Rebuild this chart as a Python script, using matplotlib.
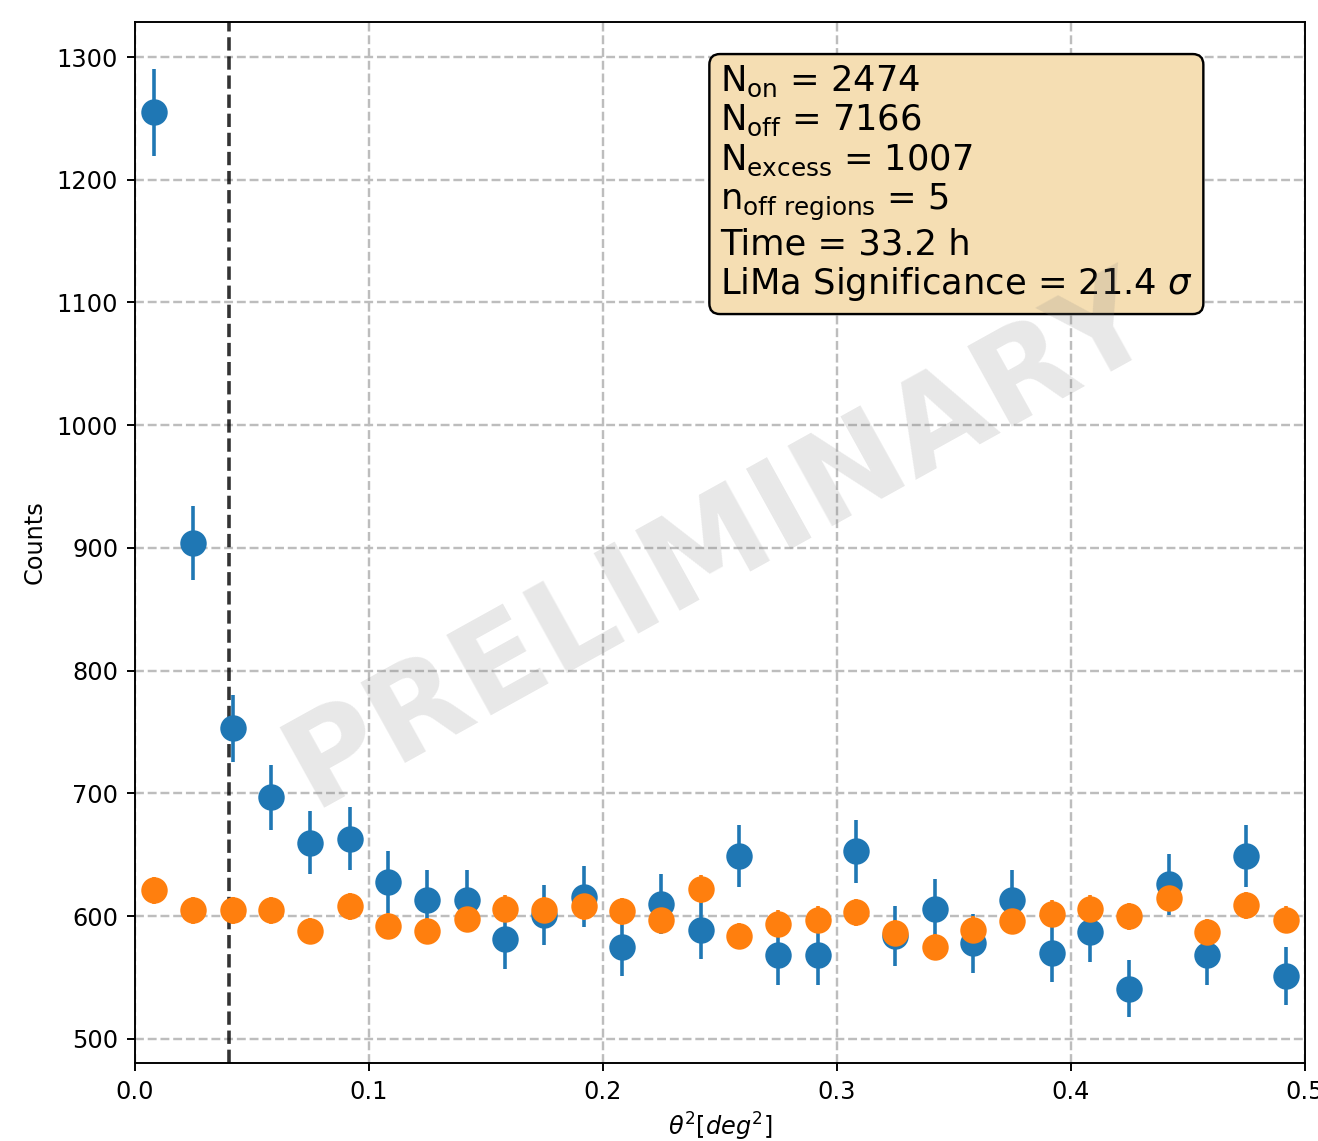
import matplotlib
matplotlib.use("Agg")
import matplotlib.pyplot as plt

# theta^2 bin centres (30 bins between 0 and 0.5 deg^2)
theta2 = [0.0083, 0.0250, 0.0417, 0.0583, 0.0750, 0.0917, 0.1083, 0.1250, 0.1417, 0.1583,
          0.1750, 0.1917, 0.2083, 0.2250, 0.2417, 0.2583, 0.2750, 0.2917, 0.3083, 0.3250,
          0.3417, 0.3583, 0.3750, 0.3917, 0.4083, 0.4250, 0.4417, 0.4583, 0.4750, 0.4917]

# ON counts and errors
on_counts = [1255, 904, 753, 697, 660, 663, 628, 613, 613, 581,
             601, 616, 575, 610, 589, 649, 568, 568, 653, 584,
             606, 578, 613, 570, 587, 541, 626, 568, 649, 551]
on_err = [35.4, 30.1, 27.4, 26.4, 25.7, 25.7, 25.1, 24.8, 24.8, 24.1,
          24.5, 24.8, 24.0, 24.7, 24.3, 25.5, 23.8, 23.8, 25.6, 24.2,
          24.6, 24.0, 24.8, 23.9, 24.2, 23.3, 25.0, 23.8, 25.5, 23.5]

# OFF (scaled) counts and errors
off_counts = [621, 605, 605, 605, 588, 608, 592, 588, 598, 606,
              605, 608, 604, 597, 622, 584, 594, 597, 603, 586,
              575, 589, 596, 602, 606, 600, 615, 587, 609, 597]
off_err = [11.1, 11.0, 11.0, 11.0, 10.8, 11.0, 10.9, 10.8, 10.9, 11.0,
           11.0, 11.0, 11.0, 10.9, 11.2, 10.8, 10.9, 10.9, 11.0, 10.8,
           10.7, 10.9, 10.9, 11.0, 11.0, 11.0, 11.1, 10.8, 11.0, 10.9]

theta2_cut = 0.04
xticks = [0.0, 0.1, 0.2, 0.3, 0.4, 0.5]
yticks = [500, 600, 700, 800, 900, 1000, 1100, 1200, 1300]

info_lines = [
    r"$\mathrm{N_{on}}$ = 2474",
    r"$\mathrm{N_{off}}$ = 7166",
    r"$\mathrm{N_{excess}}$ = 1007",
    r"$\mathrm{n_{off\ regions}}$ = 5",
    r"Time = 33.2 h",
    r"LiMa Significance = 21.4 $\sigma$",
]

DPI = 173
fig = plt.figure(figsize=(1318 / DPI, 1141 / DPI), dpi=DPI)
ax = fig.add_axes([0.1024, 0.0684, 0.8877, 0.9123])

ax.errorbar(theta2, on_counts, yerr=on_err, fmt="o", color="C0", markersize=10)
ax.errorbar(theta2, off_counts, yerr=off_err, fmt="o", color="C1", markersize=10)
ax.axvline(theta2_cut, color="k", linestyle="--", linewidth=1.5, alpha=0.8)

ax.set_xlim(0, 0.5)
ax.set_ylim(480.4, 1328.5)
ax.set_xticks(xticks)
ax.set_yticks(yticks)
ax.grid(True, linestyle="--", linewidth=1.0, color="#bdbdbd")
ax.set_xlabel(r"$\theta^2 [deg^2]$", labelpad=3)
ax.set_ylabel("Counts")

ax.text(0.5, 0.96, "\n".join(info_lines), transform=ax.transAxes,
        fontsize=14.7, va="top", ha="left", linespacing=1.15,
        bbox=dict(boxstyle="round", facecolor="wheat", edgecolor="black"))

ax.text(0.5, 0.5, "PRELIMINARY", transform=ax.transAxes, fontsize=53,
        fontweight="bold", color="gray", alpha=0.18, rotation=29,
        ha="center", va="center", zorder=10)

fig.savefig("out.png", dpi=DPI)
